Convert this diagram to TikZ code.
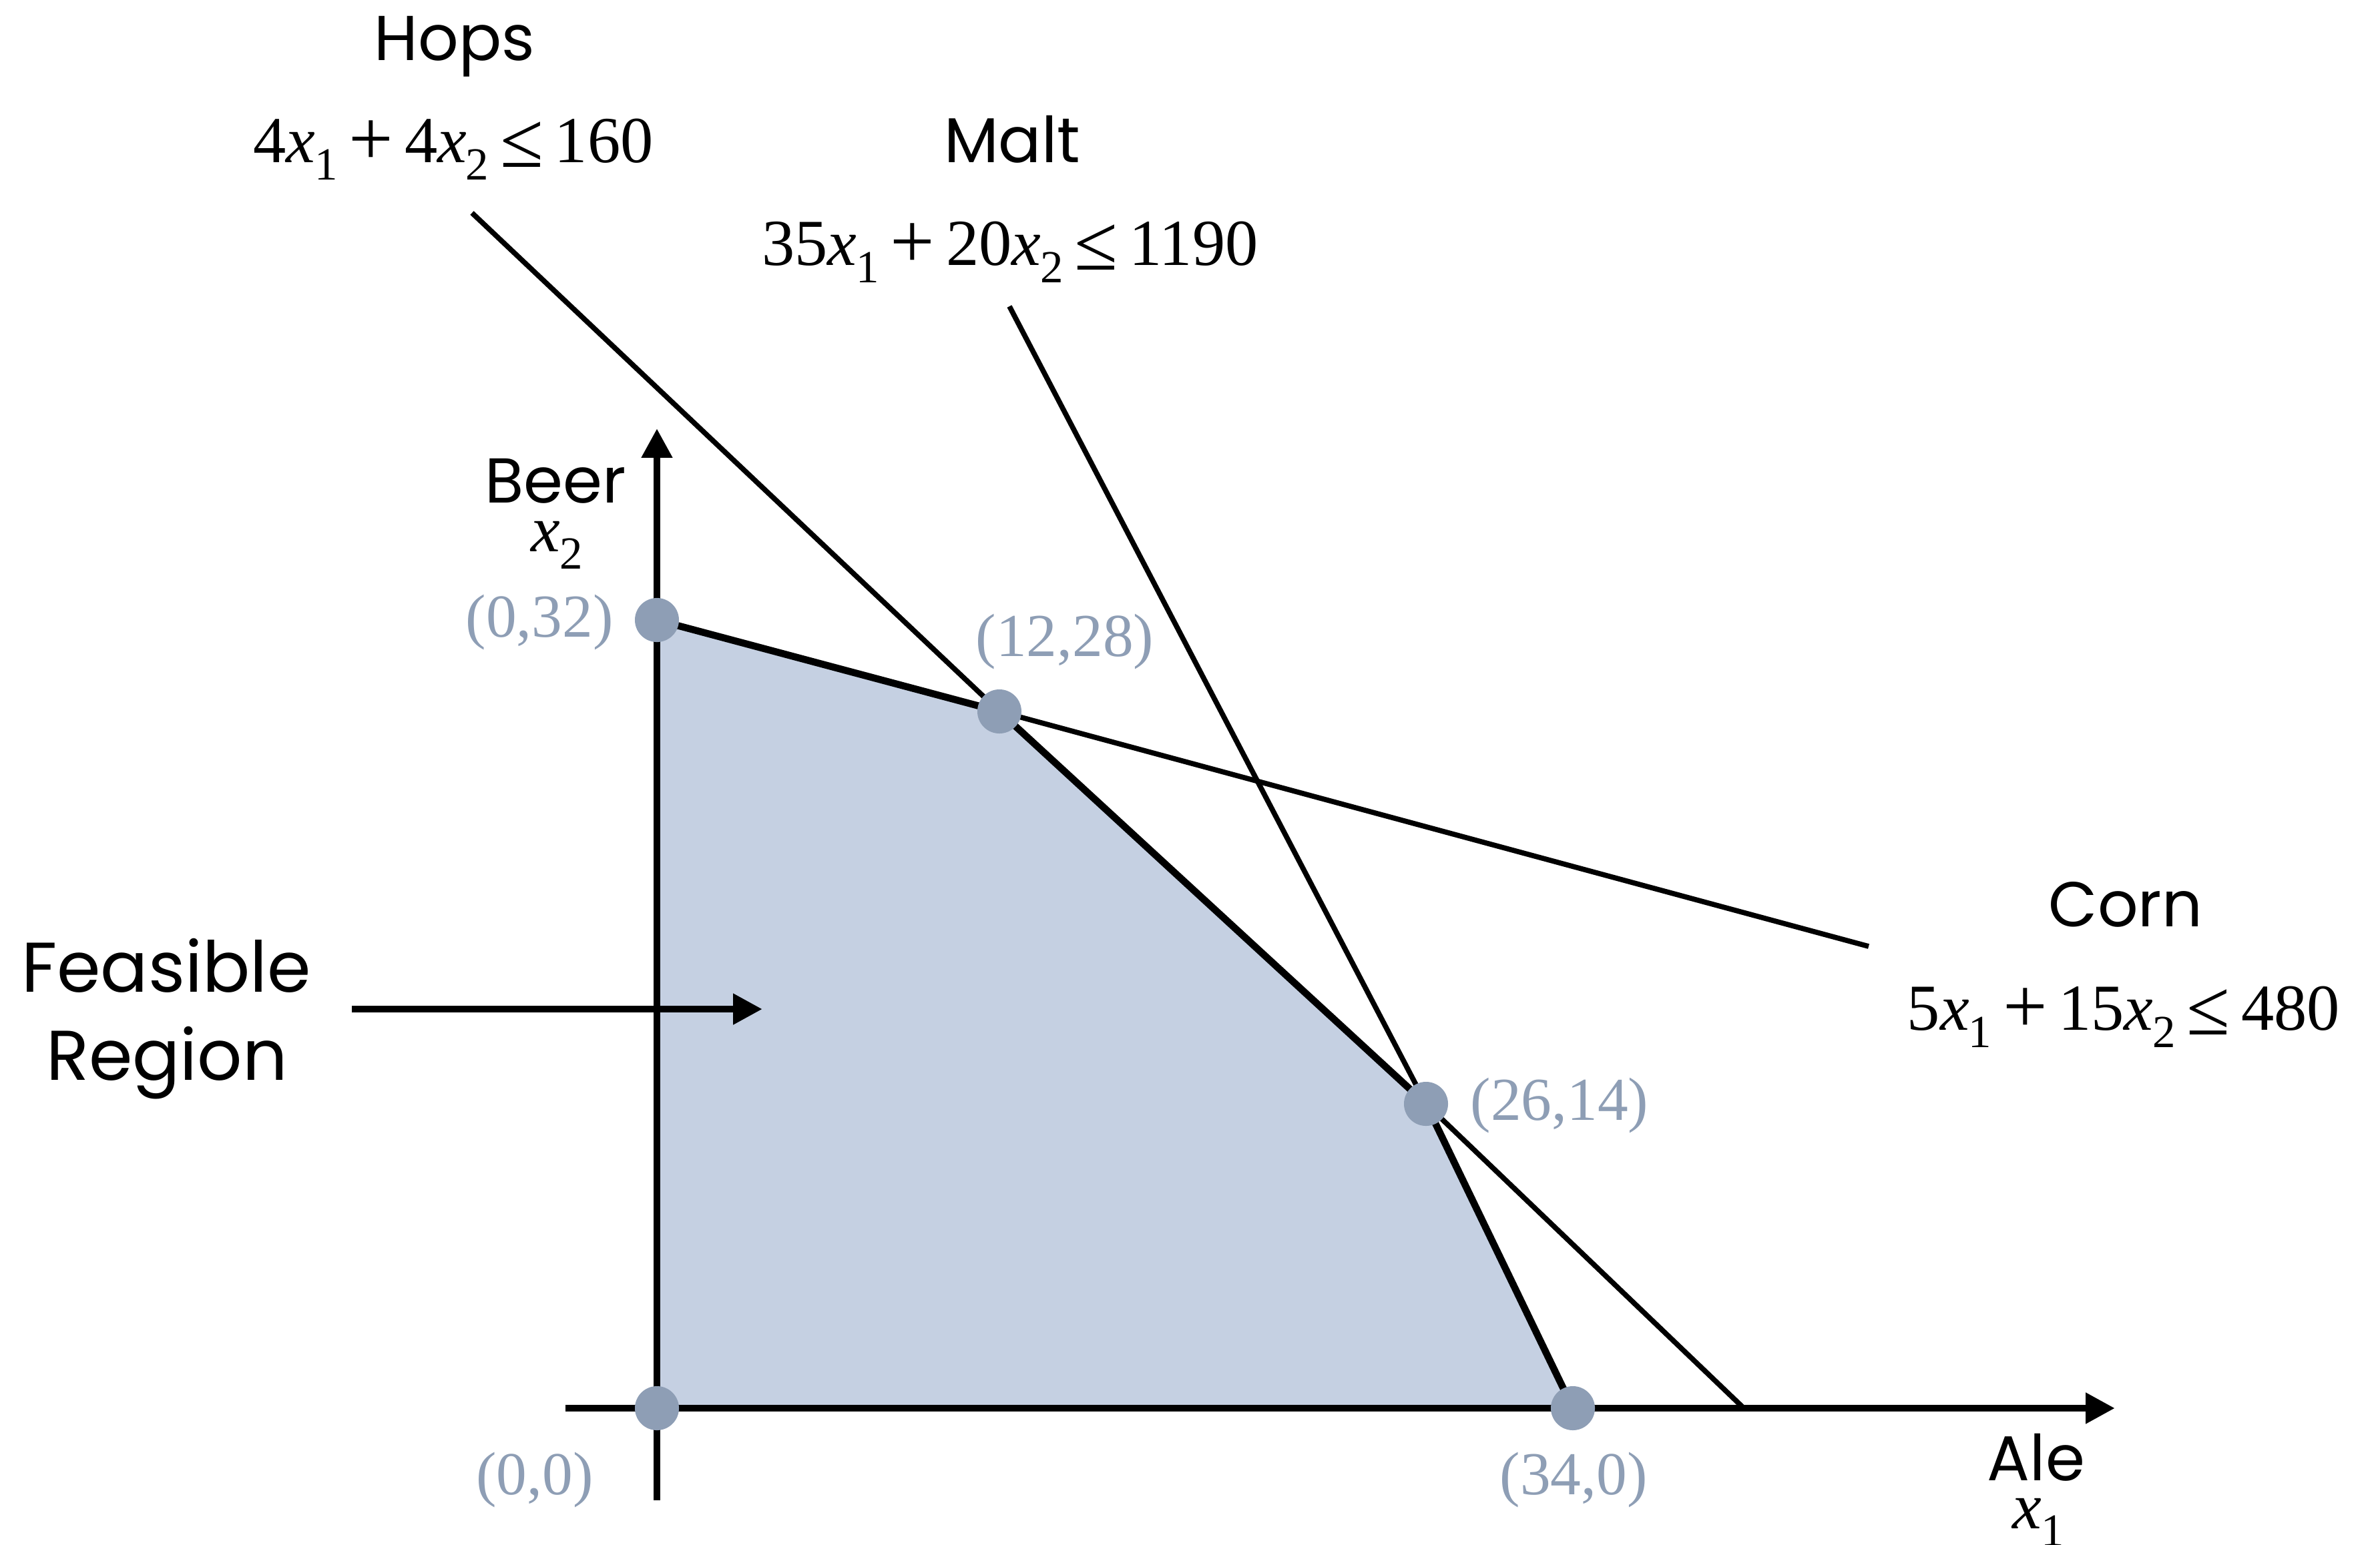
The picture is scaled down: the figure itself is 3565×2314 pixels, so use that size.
\documentclass[tikz,border=0pt]{standalone}
\usepackage{fontspec}
\setmainfont{Liberation Serif}
\newfontfamily\psans{Poppins}
\usepackage{graphicx}
\usetikzlibrary{arrows.meta}
\definecolor{dotcol}{HTML}{8E9EB5}
\definecolor{regcol}{HTML}{C5D0E2}
\newcommand\xsb[1]{\textit{x}\kern-0.01em\raisebox{-0.27em}{\scalebox{0.7}{#1}}}
\newcommand\pls{\hspace{0.17em}\raisebox{-0.05em}{\scalebox{1.2}{+}}\hspace{0.17em}}
\newcommand\leqs{\hspace{0.17em}\raisebox{-0.08em}{\scalebox{1.2}{≤}}\hspace{0.17em}}
\tikzset{
  thinln/.style={line width=2.2pt, black},
  thickln/.style={line width=3pt, black, line join=round},
  axisln/.style={line width=3.1pt, black, -{Triangle[length=12.5pt,width=12.5pt]}},
  pdot/.style={circle, fill=dotcol, inner sep=0pt, minimum size=0.66cm},
  plabel/.style={text=dotcol, font=\fontsize{26}{30}\selectfont, anchor=base},
  wlabel/.style={font=\psans\fontsize{27}{32}\selectfont, anchor=base},
  eqlabel/.style={font=\fontsize{28}{33}\selectfont, anchor=base}
}
\begin{document}
\begin{tikzpicture}[x=0.01cm, y=-0.01cm]
\useasboundingbox (0,0) rectangle (3565,2314);
% vertices
\coordinate (O) at (984,2110);
\coordinate (A) at (984,929);
\coordinate (B) at (1497,1066);
\coordinate (C) at (2136,1654);
\coordinate (D) at (2356,2110);
% line ends
\coordinate (hopsTop) at (707,319);
\coordinate (hopsBot) at (2610,2108);
\coordinate (maltTop) at (1512,459);
\coordinate (cornEnd) at (2799,1418);
\coordinate (yBot) at (984,2248);
\coordinate (yTop) at (984,642);
\coordinate (xLeft) at (847,2110);
\coordinate (xRight) at (3168,2110);
\coordinate (fArrS) at (527,1512);
\coordinate (fArrE) at (1142,1512);
% region
\fill[regcol] (O) -- (A) -- (B) -- (C) -- (D) -- cycle;
% thin constraint lines
\draw[thinln] (hopsTop) -- (B);
\draw[thinln] (C) -- (hopsBot);
\draw[thinln] (maltTop) -- (C);
\draw[thinln] (B) -- (cornEnd);
% boundary
\draw[thickln] (A) -- (B) -- (C) -- (D);
% axes
\draw[axisln] (yBot) -- (yTop);
\draw[axisln] (xLeft) -- (xRight);
\draw[axisln] (fArrS) -- (fArrE);
% dots
\node[pdot] (pO) at (O) {};
\node[pdot] (pA) at (A) {};
\node[pdot] (pB) at (B) {};
\node[pdot] (pC) at (C) {};
\node[pdot] (pD) at (D) {};
% point labels
\node[plabel] (lA) at (808,954) {(0,32)};
\node[plabel] (lB) at (1595,983) {(12,28)};
\node[plabel] (lC) at (2336,1678) {(26,14)};
\node[plabel] (lO) at (801,2239) {(0,0)};
\node[plabel] (lD) at (2357,2239) {(34,0)};
% constraint labels
\node[wlabel] (hops) at (681,90) {Hops};
\node[eqlabel] (hopsEq) at (679,243) {4\xsb{1}\pls4\xsb{2}\leqs160};
\node[wlabel] (malt) at (1516,243) {Malt};
\node[eqlabel] (maltEq) at (1513,397) {35\xsb{1}\pls20\xsb{2}\leqs1190};
\node[wlabel] (corn) at (3184,1388) {Corn};
\node[eqlabel] (cornEq) at (3181,1543) {5\xsb{1}\pls15\xsb{2}\leqs480};
% axis labels
\node[wlabel] (beer) at (832,753) {Beer};
\node[eqlabel] (bx) at (834,826) {\xsb{2}};
\node[wlabel] (ale) at (3050,2218) {Ale};
\node[eqlabel] (ax) at (3053,2290) {\xsb{1}};
% feasible region
\node[font=\psans\fontsize{30}{36}\selectfont, anchor=base] (feas) at (249,1486) {Feasible};
\node[font=\psans\fontsize{30}{36}\selectfont, anchor=base] (regn) at (250,1618) {Region};
\end{tikzpicture}
\end{document}
